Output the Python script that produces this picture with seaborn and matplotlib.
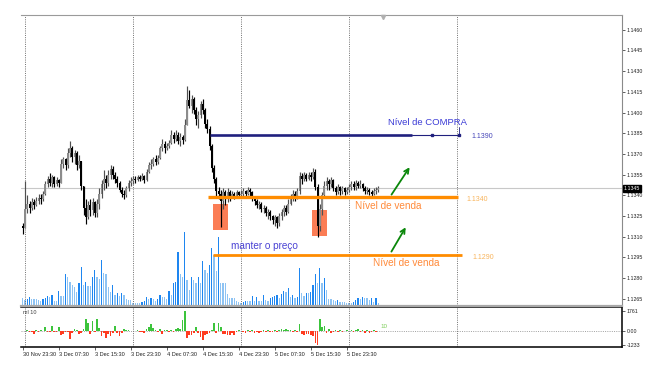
import numpy as np
import pandas as pd
import matplotlib
matplotlib.use("Agg")
import matplotlib.pyplot as plt
import matplotlib.transforms as mtransforms
from matplotlib.patches import Rectangle
import seaborn as sns

# bar index: 0 = 3 Dec 00:00 (M30 bars), -1 = 30 Nov 23:30
first_bar = -1
first_open = 1.1318

closes = [1.1316, 1.1330, 1.1334, 1.1331, 1.1335, 1.1333, 1.1336, 1.1338, 1.1337, 1.1341, 1.1348,
          1.1352, 1.1349, 1.1353, 1.1348, 1.1351, 1.1349, 1.1363, 1.1366, 1.1362, 1.1371,
          1.1374, 1.1368, 1.1371, 1.1362, 1.1365, 1.1347, 1.1331, 1.1324, 1.1333, 1.1329,
          1.1335, 1.1327, 1.1334, 1.1341, 1.1348, 1.1352, 1.1349, 1.1355, 1.1359, 1.1355,
          1.1352, 1.1349, 1.1344, 1.1341, 1.1340, 1.1345, 1.1349, 1.1350, 1.1352, 1.1351,
          1.1353, 1.1352, 1.1354, 1.1351, 1.1357, 1.1362, 1.1363, 1.1366, 1.1364, 1.1367,
          1.1374, 1.1377, 1.1374, 1.1376, 1.1378, 1.1384, 1.1381, 1.1384, 1.1379, 1.1382,
          1.1380, 1.1391, 1.1409, 1.1405, 1.1410, 1.1402, 1.1395, 1.1398, 1.1406, 1.1402,
          1.1392, 1.1388, 1.1376, 1.1360, 1.1352, 1.1343, 1.1341, 1.1336, 1.1342, 1.1338,
          1.1342, 1.1339, 1.1341, 1.1339, 1.1342, 1.1340, 1.1341, 1.1343, 1.1341, 1.1344,
          1.1342, 1.1338, 1.1336, 1.1333, 1.1334, 1.1330, 1.1331, 1.1327, 1.1328, 1.1325,
          1.1322, 1.1324, 1.1320, 1.1325, 1.1328, 1.1331, 1.1328, 1.1334, 1.1338, 1.1341,
          1.1339, 1.1343, 1.1354, 1.1352, 1.1355, 1.1352, 1.1355, 1.1353, 1.1357, 1.1346,
          1.1318, 1.1330, 1.1340, 1.1347, 1.1350, 1.1348, 1.1351, 1.1345, 1.1342, 1.1346,
          1.1343, 1.1345, 1.1342, 1.1344, 1.1346, 1.1348, 1.1346, 1.1349, 1.1347, 1.1348,
          1.1345, 1.1343, 1.1344, 1.1342, 1.1341, 1.1343, 1.1344, 1.1345]

highs = [1.1320, 1.1350, 1.1340, 1.1336, 1.1338, 1.1337, 1.1339, 1.1341, 1.1341, 1.1343, 1.1350,
         1.1354, 1.1356, 1.1355, 1.1354, 1.1353, 1.1352, 1.1366, 1.1368, 1.1367, 1.1374,
         1.1379, 1.1376, 1.1373, 1.1372, 1.1369, 1.1365, 1.1347, 1.1337, 1.1336, 1.1337,
         1.1338, 1.1336, 1.1337, 1.1345, 1.1351, 1.1358, 1.1355, 1.1358, 1.1362, 1.1361,
         1.1357, 1.1354, 1.1350, 1.1346, 1.1344, 1.1347, 1.1351, 1.1353, 1.1354, 1.1354,
         1.1355, 1.1355, 1.1356, 1.1355, 1.1359, 1.1364, 1.1366, 1.1368, 1.1369, 1.1369,
         1.1376, 1.1381, 1.1379, 1.1378, 1.1380, 1.1387, 1.1386, 1.1387, 1.1386, 1.1385,
         1.1384, 1.1395, 1.1419, 1.1416, 1.1413, 1.1411, 1.1404, 1.1401, 1.1408, 1.1410,
         1.1403, 1.1395, 1.1390, 1.1377, 1.1362, 1.1353, 1.1346, 1.1344, 1.1345, 1.1344,
         1.1345, 1.1344, 1.1343, 1.1342, 1.1344, 1.1343, 1.1344, 1.1345, 1.1344, 1.1346,
         1.1345, 1.1343, 1.1339, 1.1337, 1.1336, 1.1335, 1.1333, 1.1332, 1.1330, 1.1329,
         1.1326, 1.1326, 1.1325, 1.1327, 1.1330, 1.1333, 1.1333, 1.1337, 1.1341, 1.1344,
         1.1343, 1.1345, 1.1357, 1.1356, 1.1357, 1.1356, 1.1357, 1.1357, 1.1360, 1.1359,
         1.1348, 1.1334, 1.1342, 1.1350, 1.1353, 1.1352, 1.1353, 1.1352, 1.1347, 1.1348,
         1.1347, 1.1347, 1.1346, 1.1346, 1.1348, 1.1350, 1.1350, 1.1351, 1.1350, 1.1351,
         1.1349, 1.1347, 1.1346, 1.1345, 1.1344, 1.1345, 1.1346, 1.1347]

lows = [1.1312, 1.1316, 1.1327, 1.1327, 1.1329, 1.1330, 1.1332, 1.1334, 1.1334, 1.1336, 1.1340,
        1.1346, 1.1347, 1.1346, 1.1346, 1.1347, 1.1346, 1.1349, 1.1360, 1.1358, 1.1360,
        1.1368, 1.1364, 1.1363, 1.1358, 1.1360, 1.1344, 1.1326, 1.1319, 1.1323, 1.1325,
        1.1326, 1.1324, 1.1324, 1.1330, 1.1338, 1.1344, 1.1345, 1.1347, 1.1352, 1.1352,
        1.1349, 1.1346, 1.1342, 1.1339, 1.1337, 1.1339, 1.1343, 1.1347, 1.1348, 1.1349,
        1.1350, 1.1350, 1.1351, 1.1349, 1.1350, 1.1356, 1.1359, 1.1361, 1.1362, 1.1363,
        1.1366, 1.1372, 1.1371, 1.1373, 1.1374, 1.1377, 1.1378, 1.1379, 1.1377, 1.1376,
        1.1377, 1.1379, 1.1391, 1.1403, 1.1400, 1.1399, 1.1391, 1.1389, 1.1396, 1.1399,
        1.1389, 1.1385, 1.1373, 1.1357, 1.1349, 1.1339, 1.1337, 1.1317, 1.1330, 1.1333,
        1.1335, 1.1336, 1.1338, 1.1337, 1.1338, 1.1338, 1.1338, 1.1339, 1.1339, 1.1340,
        1.1339, 1.1336, 1.1333, 1.1331, 1.1330, 1.1328, 1.1327, 1.1325, 1.1323, 1.1322,
        1.1319, 1.1318, 1.1316, 1.1318, 1.1322, 1.1325, 1.1326, 1.1327, 1.1333, 1.1336,
        1.1336, 1.1337, 1.1341, 1.1348, 1.1350, 1.1350, 1.1351, 1.1350, 1.1352, 1.1344,
        1.1310, 1.1314, 1.1326, 1.1338, 1.1344, 1.1344, 1.1346, 1.1343, 1.1340, 1.1341,
        1.1340, 1.1341, 1.1340, 1.1341, 1.1342, 1.1344, 1.1344, 1.1344, 1.1345, 1.1345,
        1.1343, 1.1341, 1.1341, 1.1340, 1.1339, 1.1340, 1.1341, 1.1342]

# tick volume (relative units, no scale shown on the chart)
volume = [8, 6, 7, 9, 7, 7, 7, 6, 5, 7, 8,
          10, 9, 11, 5, 5, 15, 10, 10, 32, 29,
          24, 21, 19, 14, 23, 39, 21, 24, 20, 20,
          29, 36, 29, 27, 46, 33, 32, 19, 14, 21,
          11, 13, 10, 13, 11, 7, 6, 6, 3, 3,
          3, 3, 4, 5, 9, 7, 8, 7, 5, 7,
          11, 9, 9, 7, 15, 11, 23, 24, 54, 32,
          29, 74, 26, 16, 29, 26, 23, 29, 23, 45,
          36, 33, 41, 58, 51, 35, 69, 23, 23, 23,
          12, 8, 8, 8, 5, 4, 3, 4, 5, 5,
          5, 10, 5, 9, 5, 5, 11, 6, 5, 8,
          9, 10, 11, 8, 12, 15, 14, 18, 9, 11,
          8, 9, 38, 13, 10, 13, 13, 14, 21, 32,
          23, 38, 23, 28, 16, 7, 7, 6, 5, 6,
          4, 4, 4, 3, 3, 3, 4, 6, 8, 7,
          9, 8, 8, 6, 8, 4, 8, 3]

# lower window oscillator ("ml 10")
osc = [20, -30, 85, -95, -70, -250, 60, -90, 75, 30, 350,
       -80, -110, 430, -90, -100, 360, -340, -270, -90, -110,
       -700, -180, 170, 90, -260, -170, 160, 1050, 690, -260,
       880, -90, 1040, 260, -440, -190, -610, -260, -430, -180,
       440, -170, -440, -160, 170, 60, 90, 30, -20, 40,
       70, -90, -80, -170, 160, 350, 610, 260, 90, -80,
       170, -270, 60, 90, -80, 90, -70, 170, 260, 170,
       960, 1761, -610, -350, -350, -170, 350, -170, -530, -790,
       -350, -260, -180, 90, 700, -170, 700, 350, -260, -260,
       -350, -350, -170, -350, -90, 60, -30, -80, -170, 70,
       -90, 80, -180, -90, -170, -80, 90, -70, 80, -90,
       -80, 70, -90, 80, 170, 90, 160, 90, 70, -80,
       60, -90, 610, -260, -350, -260, -270, -350, -440, -1050,
       -1233, 1050, 350, 440, -180, 170, -170, -90, 80, -70,
       60, -80, -30, 70, 20, 60, -70, 80, 160, -80,
       70, -170, 60, -170, -80, 70, -90, 30]

tick_pos = [-1, 15, 31, 47, 63, 79, 95, 111, 127, 143]
tick_labels = ["30 Nov 23:30", "3 Dec 07:30", "3 Dec 15:30", "3 Dec 23:30", "4 Dec 07:30",
               "4 Dec 15:30", "4 Dec 23:30", "5 Dec 07:30", "5 Dec 15:30", "5 Dec 23:30"]
day_lines = [0, 48, 96, 144, 192]
price_ticks = [1.1265, 1.1280, 1.1295, 1.1310, 1.1325, 1.1340, 1.1355,
               1.1370, 1.1385, 1.1400, 1.1415, 1.1430, 1.1445, 1.1460]
osc_ticks = [1761, 0, -1233]
osc_tick_labels = ["1761", "0.00", "-1233"]
last_price = 1.1345

# drawn levels (where the lines sit) and the text written next to them
compra_level, compra_label = 1.13835, "1.1390"
venda_levels = [1.13386, 1.12967]
venda_labels = ["1.1340", "1.1290"]

sns.set_style("white")
plt.rcParams["font.family"] = ["Liberation Sans", "DejaVu Sans"]

idx = np.arange(first_bar, first_bar + len(closes))
c = np.array(closes)
h = np.array(highs)
l = np.array(lows)
o = np.r_[first_open, c[:-1]]

df = pd.DataFrame({"bar": idx, "volume": volume, "osc": osc})
vol_up = df["volume"].diff().fillna(0) > 0

W, H = 669, 367


def rect(x0, y0, x1, y1):
    return [x0 / W, 1 - y1 / H, (x1 - x0) / W, (y1 - y0) / H]


fig = plt.figure(figsize=(W / 100, H / 100), dpi=100)
ax_vol = fig.add_axes(rect(21, 15, 622, 306))
ax = fig.add_axes(rect(21, 15, 622, 306))
ax_osc = fig.add_axes(rect(21, 307, 622, 347))
ax_vol.set_zorder(1)
ax.set_zorder(2)
ax.patch.set_visible(False)

xlim = (-1.78, 265.3)

# volume histogram behind the candles
sns.barplot(data=df, x="bar", y="volume", native_scale=True, width=0.62, color="#1e86f0",
            saturation=1, errorbar=None, ax=ax_vol)
for p, up in zip(ax_vol.patches, vol_up):
    p.set_facecolor("#1e86f0" if up else "#8ec3f3")
    p.set_linewidth(0)
ax_vol.set_xlim(xlim)
ax_vol.set_ylim(0, 291)
ax_vol.axis("off")

# candles
bull = c >= o
wick_col = np.where(bull, "#505050", "#000000")
body_col = np.where(bull, "#8c8c8c", "#000000")
ax.vlines(idx, l, h, colors=wick_col, lw=0.85, zorder=3)
body_h = np.maximum(np.abs(c - o), 0.00002)
ax.bar(idx, body_h, bottom=np.minimum(o, c), width=0.8, color=body_col, lw=0, zorder=3)

ax.set_xlim(xlim)
ax.set_ylim(1.12597, 1.14707)

for d in day_lines:
    ax.axvline(d, color="#707070", lw=0.7, ls=(0, (1, 1.3)), zorder=1)
    ax_osc.axvline(d, color="#707070", lw=0.7, ls=(0, (1, 1.3)), zorder=1)

ax.axhline(last_price, color="#c8c8c8", lw=0.8, zorder=1)

# highlighted boxes
for x0, x1, y0, y1 in [(83.6, 90.2, 1.13148, 1.13335), (127.6, 134.2, 1.13104, 1.13293)]:
    ax.add_patch(Rectangle((x0, y0), x1 - x0, y1 - y0, color="#fb7d55", lw=0, zorder=2))

# buy level
ax.plot([82.2, 172], [compra_level] * 2, color="#20207e", lw=1.9, zorder=4, solid_capstyle="butt")
ax.plot([172, 192.9], [compra_level] * 2, color="#20207e", lw=0.8, zorder=4)
ax.plot([180.9, 192.9], [compra_level] * 2, "s", color="#20207e", ms=1.6, zorder=4)
ax.plot([192.9, 192.9], [compra_level, compra_level + 0.0006], color="#20207e", lw=0.6, zorder=4)
ax.text(198.2, compra_level - 0.0001, compra_label, fontsize=5, color="#4545b8",
        ha="left", va="center")
ax.text(161.3, 1.13924, "Nível de COMPRA", fontsize=6.8, color="#3b3bd6", ha="left", va="center")

# sell levels
for lev, lab, x0, x1, lx, lw in zip(venda_levels, venda_labels, [81.3, 83.6], [192.4, 194.2],
                                     [196.0, 199.0], [2.4, 2.0]):
    ax.plot([x0, x1], [lev, lev], color="#ff8c00", lw=lw, zorder=4, solid_capstyle="butt")
    ax.text(lx, lev - 0.00015, lab, fontsize=5, color="#f8b45c", ha="left", va="center")
ax.text(146.7, 1.13322, "Nível de venda", fontsize=7.2, color="#ff8a3a", ha="left", va="center")
ax.text(154.7, 1.12909, "Nível de venda", fontsize=7.2, color="#ff8a3a", ha="left", va="center")
ax.text(91.6, 1.13032, "manter o preço", fontsize=7.2, color="#4a42d4", ha="left", va="center")

# arrows
for (x0, y0), (x1, y1) in [((162.2, 1.13388), (171.6, 1.13620)),
                           ((162.2, 1.12974), (169.8, 1.13185))]:
    ax.annotate("", xy=(x1, y1), xytext=(x0, y0), zorder=5,
                arrowprops=dict(arrowstyle="->", color="#0a870a", lw=1.3, mutation_scale=8))

# chart shift marker
ax.plot([159.1], [1.14695], marker="v", color="#b0b0b0", ms=3, clip_on=False, zorder=5)

# price axis
ax.yaxis.tick_right()
ax.set_yticks(price_ticks)
ax.set_yticklabels([f"{p:.4f}" for p in price_ticks])
ax.tick_params(axis="y", which="both", right=True, left=False, length=2, width=0.5,
               pad=1.5, labelsize=3.8, colors="#202020")
ax.set_xticks([])
ax.text(1.003, last_price, f"{last_price:.4f}", transform=mtransforms.blended_transform_factory(
    ax.transAxes, ax.transData), fontsize=3.8, color="white", ha="left", va="center",
    bbox=dict(facecolor="black", edgecolor="black", pad=0.8), clip_on=False, zorder=6)
ax.spines["left"].set_visible(False)
ax.spines["top"].set_color("#9a9a9a")
ax.spines["right"].set_color("#8a8a8a")
ax.spines["right"].set_linewidth(0.8)
ax.spines["bottom"].set_color("#a8a8a8")
ax.spines["bottom"].set_linewidth(1.6)
ax.set_xlabel("")
ax.set_ylabel("")

# oscillator window
sns.barplot(data=df, x="bar", y="osc", native_scale=True, width=0.7, color="#3cc43c",
            saturation=1, errorbar=None, ax=ax_osc)
for p, v in zip(ax_osc.patches, df["osc"]):
    p.set_facecolor("#3cc43c" if v > 0 else "#ff3b1f")
    p.set_linewidth(0)
ax_osc.axhline(0, color="#a0a0a0", lw=0.7, ls=(0, (1, 1.3)), zorder=0)
ax_osc.set_xlim(xlim)
ax_osc.set_ylim(-1408, 2112)
ax_osc.yaxis.tick_right()
ax_osc.set_yticks(osc_ticks)
ax_osc.set_yticklabels(osc_tick_labels)
ax_osc.set_xticks(tick_pos)
ax_osc.set_xticklabels(tick_labels)
for t in ax_osc.get_xticklabels():
    t.set_ha("left")
ax_osc.tick_params(axis="y", right=True, left=False, length=2, width=0.5, pad=1.5,
                   labelsize=3.8, colors="#202020")
ax_osc.tick_params(axis="x", bottom=True, length=2, width=0.5, pad=1.5, labelsize=4,
                   colors="#202020")
ax_osc.spines["left"].set_visible(False)
for side in ["top", "right", "bottom"]:
    ax_osc.spines[side].set_color("black")
    ax_osc.spines[side].set_linewidth(1.1)
ax_osc.set_xlabel("")
ax_osc.set_ylabel("")
ax_osc.text(0.003, 0.86, "ml 10", transform=ax_osc.transAxes, fontsize=4, color="#404040",
            ha="left", va="center")
ax_osc.text(157.8, 440, "10", fontsize=4.5, color="#7ccc58", ha="left", va="center")

fig.savefig("out.png", dpi=100)
